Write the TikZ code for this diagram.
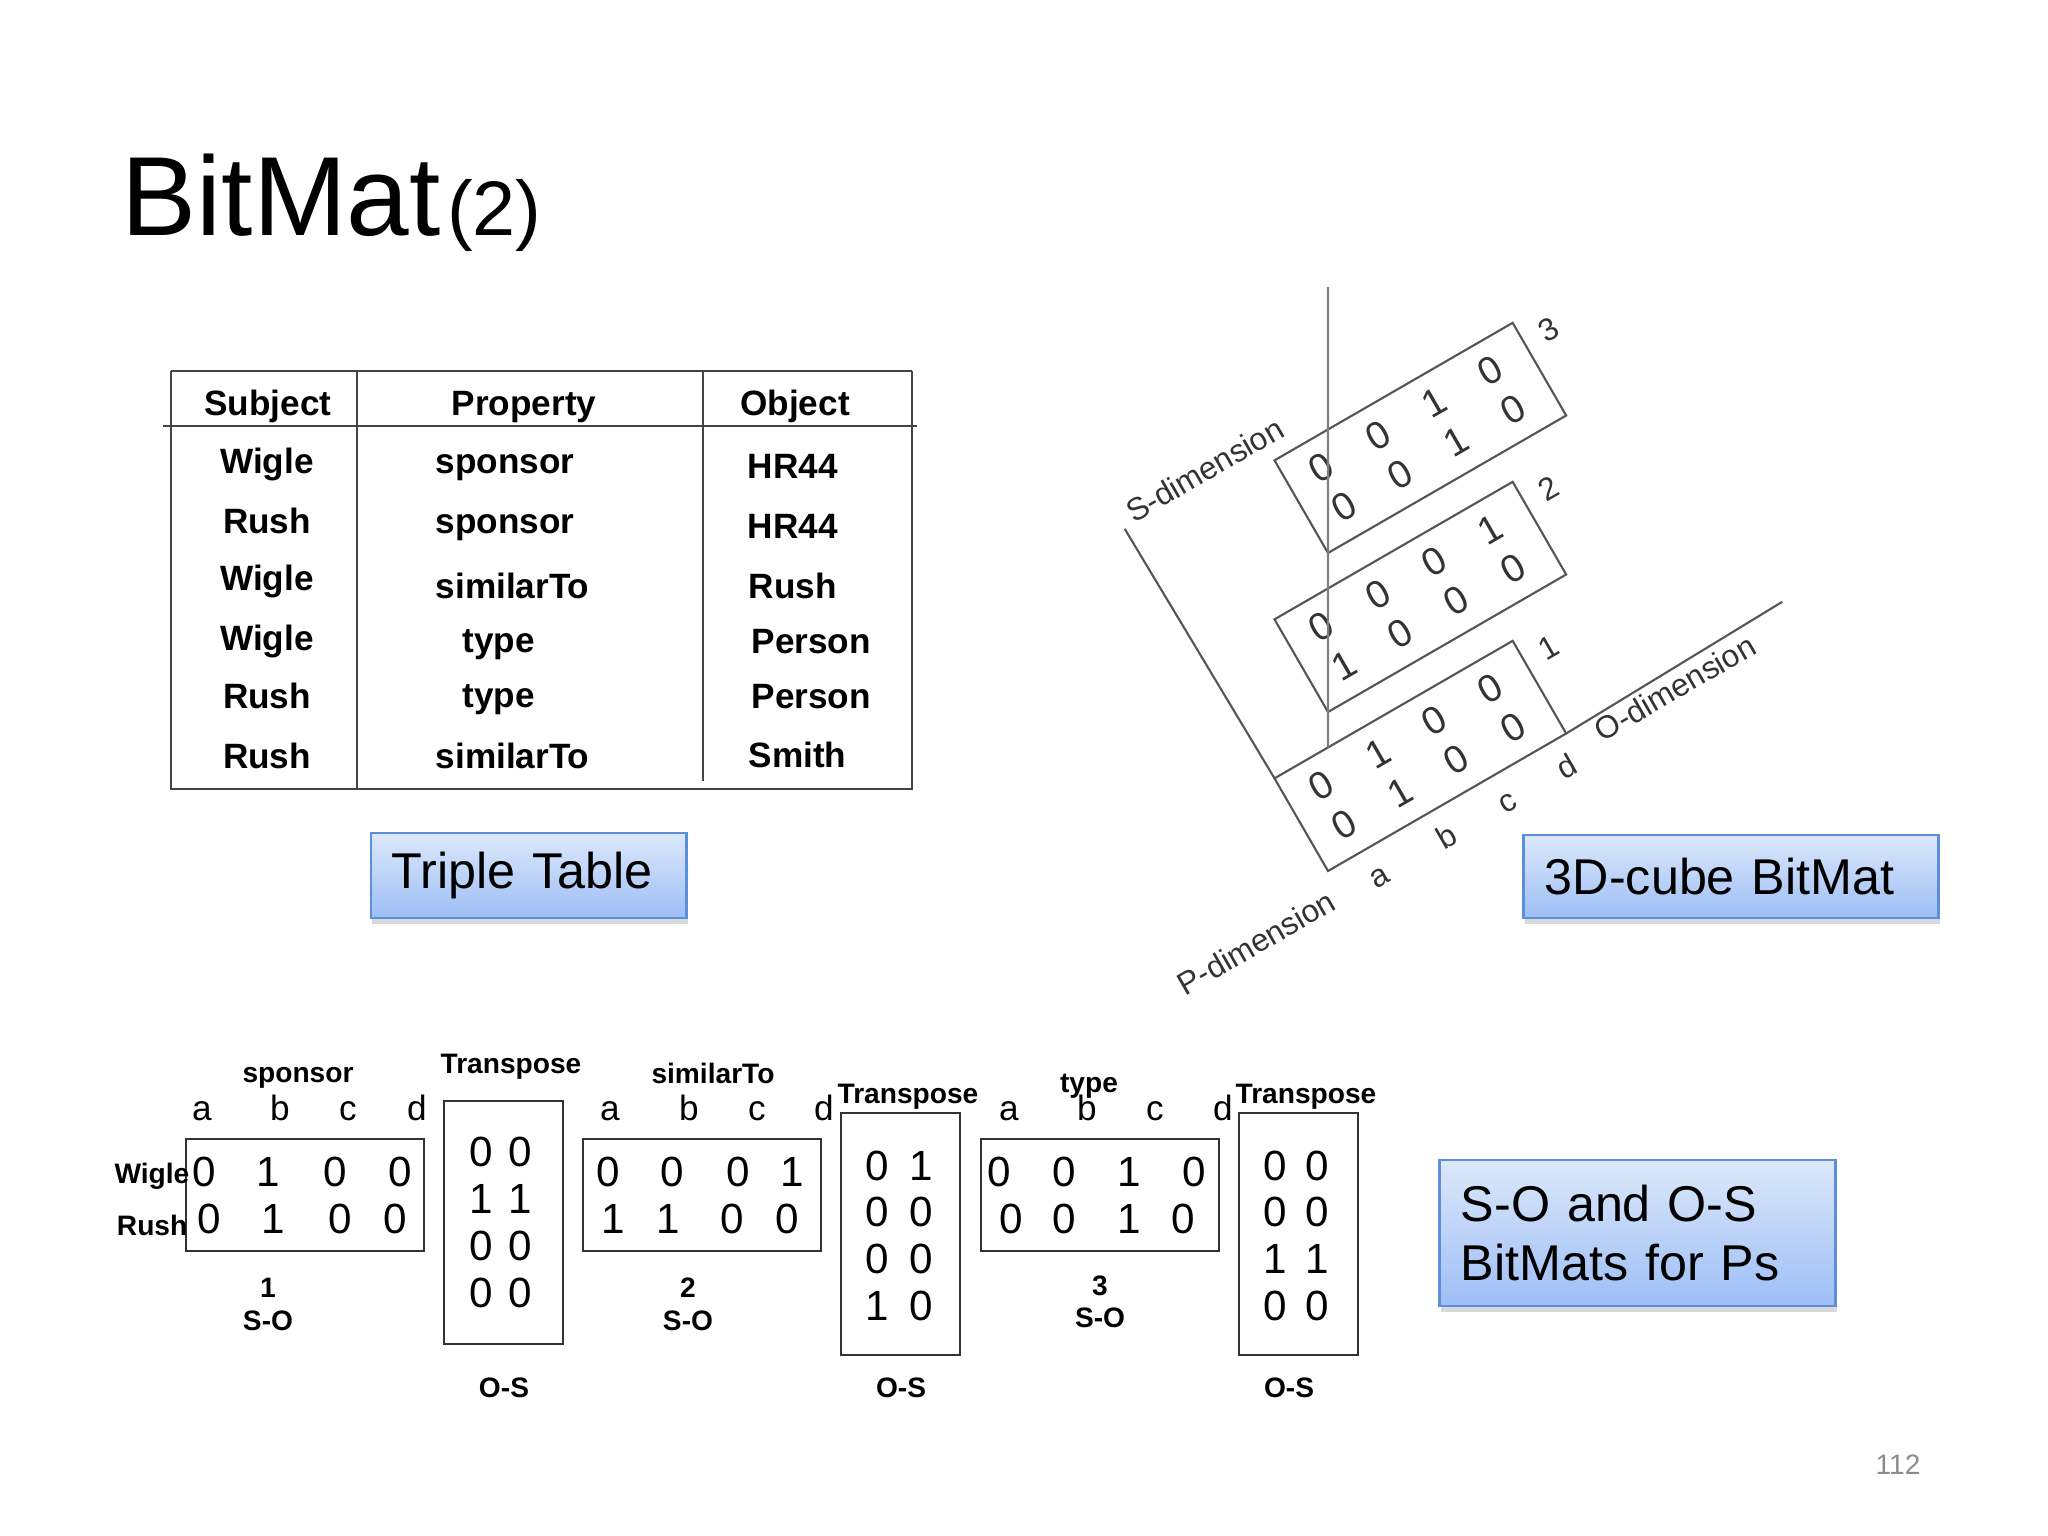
\documentclass[tikz,border=0pt]{standalone}
\usepackage{fontspec}
\setmainfont{Liberation Sans}
\usetikzlibrary{shadows}
\definecolor{boxtop}{HTML}{DCE8FB}
\definecolor{boxbot}{HTML}{9DBEF5}
\definecolor{boxline}{HTML}{5B8FD9}
\definecolor{ink}{HTML}{333333}
\definecolor{tblgray}{HTML}{444444}
\definecolor{cubegray}{HTML}{555555}
\definecolor{pagegray}{HTML}{8C8C8C}

\begin{document}
\begin{tikzpicture}[x=0.01cm,y=-0.01cm]
  \tikzstyle{tbl}=[draw=tblgray, line width=0.8pt]
  \tikzstyle{cell}=[inner sep=0pt, font=\fontsize{10}{12}\selectfont\bfseries]
  \tikzstyle{tag}=[inner sep=0pt, anchor=base, font=\fontsize{8}{10}\selectfont\bfseries]
  \tikzstyle{bit}=[inner sep=0pt, font=\fontsize{12}{14}\selectfont]
  \tikzstyle{col}=[inner sep=0pt, anchor=base, font=\fontsize{10}{12}\selectfont]
  \tikzstyle{mat}=[draw=ink, line width=0.7pt, inner sep=0pt]
  \tikzstyle{callout}=[draw=boxline, line width=0.8pt, top color=boxtop, bottom color=boxbot,
    drop shadow={shadow xshift=0.4pt, shadow yshift=-1.8pt, opacity=0.3},
    inner xsep=0.21cm, align=left, font=\fontsize{14.3}{17}\selectfont]
  \tikzstyle{cubeline}=[draw=cubegray, line width=0.6pt]
  \tikzstyle{cubebit}=[inner sep=0pt, text=ink, font=\fontsize{11}{13}\selectfont]
  \tikzstyle{cubelbl}=[inner sep=0pt, text=ink, font=\fontsize{9}{11}\selectfont]

  \useasboundingbox (0,0) rectangle (2048,1536);

  % title
  \node[anchor=base west, inner sep=0pt, font=\fontsize{32}{38}\selectfont] (title) at (121,235) {BitMat};
  \node[anchor=base west, inner sep=0pt, font=\fontsize{22}{26}\selectfont] (titlenum) at ([xshift=0.05cm]title.base east) {(2)};

  % triple table
  \draw[tbl] (171,371) -- (912,371);
  \draw[tbl] (163,426) -- (917,426);
  \draw[tbl] (171,371) -- (171,789) -- (912,789) -- (912,371);
  \draw[tbl] (357,371) -- (357,789);
  \draw[tbl] (703,371) -- (703,781);

  \node[cell, anchor=base] (hsubj) at (268,415) {Subject};
  \node[cell, anchor=base] (hprop) at (524,415) {Property};
  \node[cell, anchor=base] (hobj) at (795,415) {Object};

  \node[cell, anchor=base] (s1) at (267,473) {Wigle};
  \node[cell, anchor=base] (s2) at (267,533) {Rush};
  \node[cell, anchor=base] (s3) at (267,590) {Wigle};
  \node[cell, anchor=base] (s4) at (267,650) {Wigle};
  \node[cell, anchor=base] (s5) at (267,708) {Rush};
  \node[cell, anchor=base] (s6) at (267,768) {Rush};

  \node[cell, anchor=base west] (p1) at (435,473) {sponsor};
  \node[cell, anchor=base west] (p2) at (435,533) {sponsor};
  \node[cell, anchor=base west] (p3) at (435,598) {similarTo};
  \node[cell, anchor=base west] (p4) at (462,652) {type};
  \node[cell, anchor=base west] (p5) at (462,707) {type};
  \node[cell, anchor=base west] (p6) at (435,768) {similarTo};

  \node[cell, anchor=base west] (o1) at (747,478) {HR44};
  \node[cell, anchor=base west] (o2) at (747,538) {HR44};
  \node[cell, anchor=base west] (o3) at (748,598) {Rush};
  \node[cell, anchor=base west] (o4) at (751,653) {Person};
  \node[cell, anchor=base west] (o5) at (751,708) {Person};
  \node[cell, anchor=base west] (o6) at (748,767) {Smith};

  % callouts
  \node[callout, minimum height=0.85cm, text width=2.73cm] (triple) at (528.5,875.5) {Triple Table};
  \node[callout, minimum height=0.83cm, text width=3.72cm] (cube) at (1731,876.5) {3D-cube BitMat};
  \node[callout, minimum height=1.46cm, text width=3.53cm] (sobox) at (1637.5,1233) {S-O and O-S\\BitMats for Ps};

  % 3D cube, drawn in the frame of the bottom slice
  \begin{scope}[shift={(1328,871)}, y=0.01cm, rotate=30, transform shape]
    \coordinate (ptop) at (292,505.8);
    \coordinate (pfoot) at (61.8,107);
    \coordinate (send) at (-5,398);
    \coordinate (oend) at (528,6);
    % slice 1 (sponsor)
    \draw[cubeline] (0,0) -- (275,0) -- (275,107) -- (0,107) -- cycle;
    \foreach \v [count=\i] in {0,1,0,0} \node[cubebit] (ca\i) at (-28+65*\i,77) {\v};
    \foreach \v [count=\i] in {0,1,0,0} \node[cubebit] (cb\i) at (-28+65*\i,32) {\v};
    \node[cubelbl] (n1) at (303,83) {1};
    % slice 2 (similarTo)
    \begin{scope}[shift={(79.5,137.7)}]
      \draw[cubeline] (0,0) -- (275,0) -- (275,107) -- (0,107) -- cycle;
      \foreach \v [count=\i] in {0,0,0,1} \node[cubebit] (cc\i) at (-28+65*\i,77) {\v};
      \foreach \v [count=\i] in {1,0,0,0} \node[cubebit] (cd\i) at (-28+65*\i,32) {\v};
      \node[cubelbl] (n2) at (303,83) {2};
    \end{scope}
    % slice 3 (type)
    \begin{scope}[shift={(159,275.4)}]
      \draw[cubeline] (0,0) -- (275,0) -- (275,107) -- (0,107) -- cycle;
      \foreach \v [count=\i] in {0,0,1,0} \node[cubebit] (ce\i) at (-28+65*\i,77) {\v};
      \foreach \v [count=\i] in {0,0,1,0} \node[cubebit] (cf\i) at (-28+65*\i,32) {\v};
      \node[cubelbl] (n3) at (303,83) {3};
    \end{scope}
    % axes
    \draw[cubeline] (0,107) -- (send);
    \draw[cubeline] (275,0) -- (oend);
    \draw[cubeline, draw=gray] (ptop) -- (pfoot);
    \foreach \x/\c in {42/a,120/b,190/c,259/d} \node[cubelbl, anchor=base] (o\c) at (\x,-40) {\c};
    \node[cubelbl] (odim) at (392,-15) {O-dimension};
    \node[cubelbl] (pdim) at (-98,-26) {P-dimension};
    \node[cubelbl, anchor=west] (sdim) at (5,409) {S-dimension};
  \end{scope}

  % S-O and O-S bitmats
  \node[mat, minimum width=2.38cm, minimum height=1.12cm] (so1) at (305,1195) {};
  \node[mat, minimum width=1.19cm, minimum height=2.43cm] (os1) at (503.5,1222.5) {};
  \node[mat, minimum width=2.38cm, minimum height=1.12cm] (so2) at (702,1195) {};
  \node[mat, minimum width=1.19cm, minimum height=2.42cm] (os2) at (900.5,1234) {};
  \node[mat, minimum width=2.38cm, minimum height=1.12cm] (so3) at (1100,1195) {};
  \node[mat, minimum width=1.19cm, minimum height=2.42cm] (os3) at (1298.5,1234) {};

  \foreach \x/\v [count=\i] in {204/0,268/1,335/0,400/0} \node[bit] (so1a\i) at (\x,1172) {\v};
  \foreach \x/\v [count=\i] in {209/0,273/1,340/0,395/0} \node[bit] (so1b\i) at (\x,1219) {\v};
  \foreach \x/\v [count=\i] in {608/0,672/0,738/0,792/1} \node[bit] (so2a\i) at (\x,1172) {\v};
  \foreach \x/\v [count=\i] in {613/1,668/1,732/0,787/0} \node[bit] (so2b\i) at (\x,1219) {\v};
  \foreach \x/\v [count=\i] in {999/0,1064/0,1129/1,1194/0} \node[bit] (so3a\i) at (\x,1172) {\v};
  \foreach \x/\v [count=\i] in {1011/0,1064/0,1129/1,1183/0} \node[bit] (so3b\i) at (\x,1219) {\v};

  \foreach \y/\l/\r [count=\i] in {1152/0/0,1199/1/1,1246/0/0,1293/0/0}
    {\node[bit] (os1l\i) at (481,\y) {\l}; \node[bit] (os1r\i) at (520,\y) {\r};}
  \foreach \y/\l/\r [count=\i] in {1166/0/1,1212/0/0,1259/0/0,1306/1/0}
    {\node[bit] (os2l\i) at (877,\y) {\l}; \node[bit] (os2r\i) at (921,\y) {\r};}
  \foreach \y/\l/\r [count=\i] in {1166/0/0,1212/0/0,1259/1/1,1306/0/0}
    {\node[bit] (os3l\i) at (1275,\y) {\l}; \node[bit] (os3r\i) at (1317,\y) {\r};}

  \foreach \x/\c in {202/a,280/b,348/c,417/d} \node[col] (so1\c) at (\x,1120) {\c};
  \foreach \x/\c in {610/a,689/b,757/c,824/d} \node[col] (so2\c) at (\x,1120) {\c};
  \foreach \x/\c in {1009/a,1087/b,1155/c,1223/d} \node[col] (so3\c) at (\x,1120) {\c};

  \node[tag] (tsponsor) at (298,1082) {sponsor};
  \node[tag] (tsimilar) at (713,1083) {similarTo};
  \node[tag] (ttype) at (1089,1092) {type};
  \node[tag] (tr1) at (511,1073) {Transpose};
  \node[tag] (tr2) at (908,1103) {Transpose};
  \node[tag] (tr3) at (1306,1103) {Transpose};
  \node[tag, anchor=base east] (rwigle) at (190,1183) {Wigle};
  \node[tag, anchor=base east] (rrush) at (188,1235) {Rush};

  \node[tag] (k1) at (268,1297) {1};
  \node[tag] (k2) at (688,1297) {2};
  \node[tag] (k3) at (1100,1295) {3};
  \node[tag] (lso1) at (268,1330) {S-O};
  \node[tag] (lso2) at (688,1330) {S-O};
  \node[tag] (lso3) at (1100,1327) {S-O};
  \node[tag] (los1) at (504,1397) {O-S};
  \node[tag] (los2) at (901,1397) {O-S};
  \node[tag] (los3) at (1289,1397) {O-S};

  \node[font=\fontsize{8}{10}\selectfont, text=pagegray] (pgno) at (1898,1465) {112};
\end{tikzpicture}
\end{document}
